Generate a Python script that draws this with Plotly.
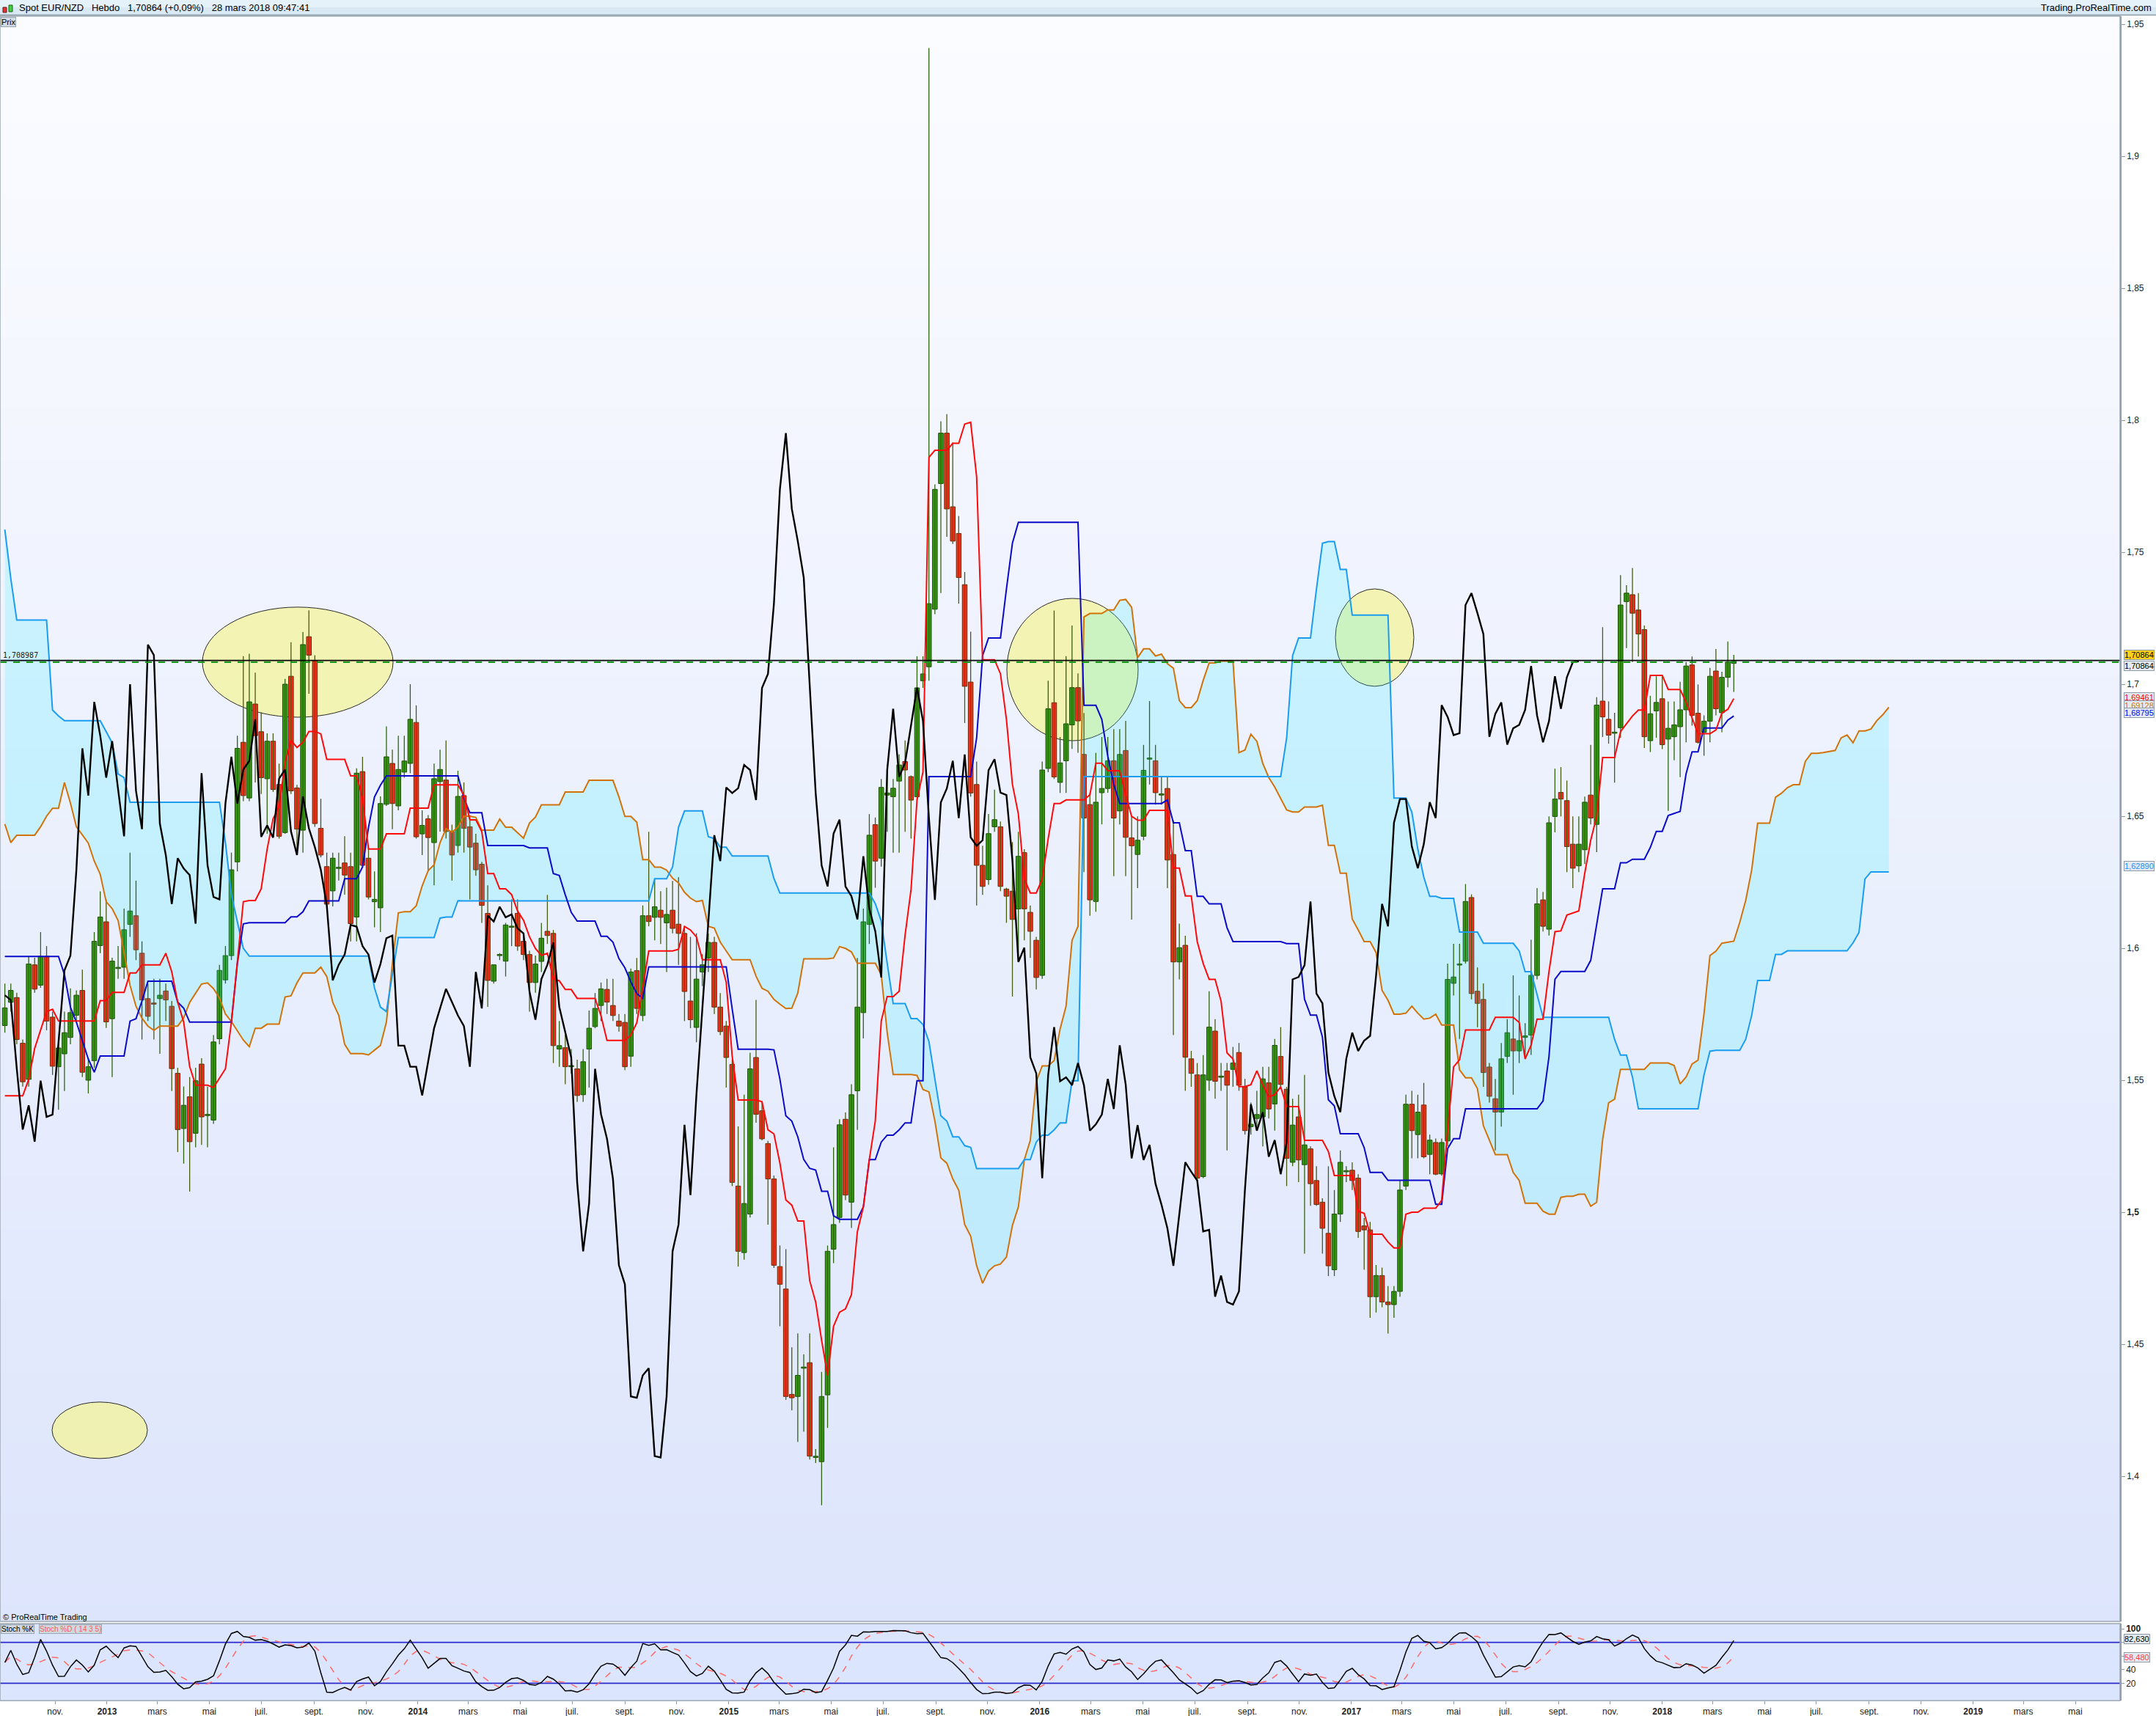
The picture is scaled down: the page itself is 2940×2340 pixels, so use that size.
import numpy as np
import pandas as pd
import plotly.graph_objects as go

# ---------------- data ----------------
FIRST_WEEK = "2012-09-03"

OPEN = [1.5707, 1.5795, 1.5813, 1.5640, 1.5503, 1.5937, 1.5860, 1.5969, 1.5739, 1.5551,
        1.5600, 1.5662, 1.5746, 1.5840, 1.5500, 1.5574, 1.6010, 1.6100, 1.5733, 1.5923,
        1.5928, 1.6090, 1.6123, 1.5981, 1.5809, 1.5790, 1.5809, 1.5838, 1.5780, 1.5526,
        1.5317, 1.5437, 1.5299, 1.5561, 1.5366, 1.5349, 1.5657, 1.5880, 1.5972, 1.6327,
        1.6780, 1.6569, 1.6925, 1.6820, 1.6642, 1.6784, 1.6620, 1.6438, 1.7030, 1.6607,
        1.6447, 1.7180, 1.7090, 1.6454, 1.6309, 1.6217, 1.6302, 1.6323, 1.6309, 1.6118,
        1.6669, 1.6341, 1.6176, 1.6153, 1.6545, 1.6700, 1.6539, 1.6667, 1.6700, 1.6855,
        1.6433, 1.6490, 1.6400, 1.6631, 1.6637, 1.6442, 1.6389, 1.6578, 1.6460, 1.6398,
        1.6318, 1.6132, 1.5875, 1.5972, 1.5951, 1.6079, 1.6132, 1.6026, 1.5976, 1.5870,
        1.5950, 1.6064, 1.6056, 1.5618, 1.5623, 1.5551, 1.5543, 1.5445, 1.5618, 1.5703,
        1.5783, 1.5844, 1.5783, 1.5724, 1.5719, 1.5591, 1.5915, 1.5745, 1.6123, 1.6117,
        1.6144, 1.6096, 1.6144, 1.6091, 1.6056, 1.5800, 1.5700, 1.5910, 1.5963, 1.6022,
        1.5777, 1.5705, 1.5560, 1.5099, 1.4847, 1.4993, 1.5586, 1.5384, 1.5260, 1.5126,
        1.4794, 1.4709, 1.4310, 1.4302, 1.4409, 1.4430, 1.4071, 1.4055, 1.4308, 1.4860,
        1.4980, 1.5352, 1.5038, 1.5460, 1.5756, 1.6090, 1.6468, 1.6341, 1.6580, 1.6574,
        1.6633, 1.6707, 1.6650, 1.6574, 1.7013, 1.7066, 1.7284, 1.7760, 1.7951, 1.7672,
        1.7571, 1.7377, 1.7008, 1.6620, 1.6314, 1.6260, 1.6460, 1.6460, 1.6224, 1.6216,
        1.6149, 1.6362, 1.6136, 1.6030, 1.5897, 1.6681, 1.6930, 1.6628, 1.6710, 1.6846,
        1.6987, 1.6734, 1.6544, 1.6177, 1.6589, 1.6605, 1.6710, 1.6520, 1.6749, 1.6418,
        1.6355, 1.6424, 1.6716, 1.6710, 1.6580, 1.6605, 1.6355, 1.5948, 1.6011, 1.5581,
        1.5520, 1.5135, 1.5500, 1.5686, 1.5511, 1.5535, 1.5541, 1.5605, 1.5475, 1.5324,
        1.5355, 1.5361, 1.5490, 1.5410, 1.5590, 1.5466, 1.5189, 1.5361, 1.5180, 1.5240,
        1.5120, 1.5038, 1.4920, 1.4782, 1.4993, 1.5153, 1.5159, 1.5129, 1.4948, 1.4933,
        1.4680, 1.4760, 1.4660, 1.4650, 1.4700, 1.5099, 1.5409, 1.5294, 1.5406, 1.5219,
        1.5264, 1.5145, 1.5270, 1.5867, 1.5936, 1.5951, 1.6192, 1.5837, 1.5806, 1.5550,
        1.5430, 1.5379, 1.5590, 1.5656, 1.5611, 1.5662, 1.5671, 1.5897, 1.6183, 1.6072,
        1.6499, 1.6590, 1.6559, 1.6394, 1.6312, 1.6373, 1.6580, 1.6469, 1.6936, 1.6867,
        1.6814, 1.6835, 1.7313, 1.7339, 1.7281, 1.7207, 1.6786, 1.6899, 1.6945, 1.6792,
        1.6801, 1.6839, 1.6903, 1.7073, 1.6890, 1.6818, 1.6860, 1.7050, 1.6892, 1.7026,
        1.7079]

HIGH = [1.5866, 1.5866, 1.5831, 1.5654, 1.5969, 1.5964, 1.6061, 1.6008, 1.5760, 1.5654,
        1.5760, 1.5848, 1.5840, 1.5919, 1.5583, 1.6061, 1.6215, 1.6185, 1.5964, 1.6008,
        1.6150, 1.6362, 1.6256, 1.6026, 1.5866, 1.5884, 1.5884, 1.5866, 1.5800, 1.5547,
        1.5476, 1.5512, 1.5547, 1.5583, 1.5476, 1.5671, 1.5937, 1.6008, 1.6362, 1.6805,
        1.7106, 1.7115, 1.7044, 1.6894, 1.6814, 1.6814, 1.6699, 1.7020, 1.7159, 1.6619,
        1.7198, 1.7280, 1.7110, 1.6566, 1.6362, 1.6362, 1.6362, 1.6424, 1.6362, 1.6681,
        1.6725, 1.6380, 1.6291, 1.6575, 1.6840, 1.6752, 1.6805, 1.6805, 1.7000, 1.6920,
        1.6522, 1.6504, 1.6699, 1.6752, 1.6787, 1.6468, 1.6672, 1.6628, 1.6504, 1.6433,
        1.6327, 1.6238, 1.5937, 1.5981, 1.6096, 1.6185, 1.6185, 1.6052, 1.5990, 1.5972,
        1.6096, 1.6202, 1.6069, 1.5724, 1.5671, 1.5618, 1.5578, 1.5618, 1.5764, 1.5830,
        1.5870, 1.5884, 1.5884, 1.5751, 1.5751, 1.5923, 1.5963, 1.6162, 1.6441, 1.6261,
        1.6216, 1.6229, 1.6255, 1.6269, 1.6083, 1.6043, 1.6056, 1.5977, 1.6056, 1.6043,
        1.5830, 1.5724, 1.5580, 1.5325, 1.5445, 1.5604, 1.5804, 1.5418, 1.5270, 1.5139,
        1.4874, 1.4860, 1.4488, 1.4541, 1.4462, 1.4541, 1.4103, 1.4395, 1.4874, 1.5246,
        1.5352, 1.5378, 1.5485, 1.5963, 1.6150, 1.6508, 1.6495, 1.6641, 1.6694, 1.6641,
        1.6734, 1.6787, 1.6654, 1.7106, 1.7106, 1.9410, 1.7757, 1.7996, 1.8023, 1.7916,
        1.7637, 1.7425, 1.7199, 1.6707, 1.6388, 1.6508, 1.6601, 1.6480, 1.6229, 1.6402,
        1.6441, 1.6375, 1.6162, 1.6043, 1.6707, 1.7013, 1.7279, 1.6800, 1.7106, 1.7222,
        1.7041, 1.6891, 1.6589, 1.6740, 1.6800, 1.6800, 1.6830, 1.6830, 1.6861, 1.6499,
        1.6499, 1.6770, 1.6936, 1.6770, 1.6650, 1.6650, 1.6484, 1.6093, 1.6047, 1.5611,
        1.5565, 1.5595, 1.5837, 1.5731, 1.5565, 1.5565, 1.5626, 1.5641, 1.5505, 1.5415,
        1.5460, 1.5551, 1.5551, 1.5656, 1.5701, 1.5475, 1.5430, 1.5445, 1.5520, 1.5249,
        1.5174, 1.5053, 1.5174, 1.5084, 1.5234, 1.5174, 1.5189, 1.5144, 1.4978, 1.4963,
        1.4800, 1.4790, 1.4720, 1.4720, 1.5120, 1.5445, 1.5460, 1.5445, 1.5490, 1.5294,
        1.5279, 1.5279, 1.5942, 1.6017, 1.6017, 1.6243, 1.6204, 1.5927, 1.5867, 1.5565,
        1.5505, 1.5641, 1.5731, 1.5897, 1.5821, 1.5716, 1.6032, 1.6228, 1.6213, 1.6499,
        1.6680, 1.6686, 1.6635, 1.6499, 1.6499, 1.6574, 1.6770, 1.6951, 1.7216, 1.6935,
        1.6892, 1.7413, 1.7375, 1.7440, 1.7345, 1.7222, 1.6956, 1.7030, 1.7030, 1.6935,
        1.6935, 1.7009, 1.7084, 1.7105, 1.6999, 1.6882, 1.7062, 1.7133, 1.7047, 1.7162,
        1.7111]

LOW = [1.5680, 1.5760, 1.5636, 1.5476, 1.5476, 1.5831, 1.5850, 1.5689, 1.5520, 1.5388,
       1.5459, 1.5636, 1.5724, 1.5512, 1.5450, 1.5547, 1.5981, 1.5698, 1.5512, 1.5884,
       1.5884, 1.6043, 1.5955, 1.5654, 1.5724, 1.5654, 1.5600, 1.5724, 1.5459, 1.5228,
       1.5184, 1.5078, 1.5246, 1.5255, 1.5246, 1.5335, 1.5636, 1.5866, 1.5955, 1.6291,
       1.6557, 1.6557, 1.6628, 1.6584, 1.6433, 1.6592, 1.6415, 1.6433, 1.6584, 1.6362,
       1.6362, 1.6964, 1.6460, 1.6344, 1.6150, 1.6158, 1.6256, 1.6203, 1.6026, 1.6026,
       1.6309, 1.6185, 1.6079, 1.6061, 1.6539, 1.6451, 1.6522, 1.6646, 1.6663, 1.6415,
       1.6353, 1.6291, 1.6238, 1.6442, 1.6415, 1.6256, 1.6362, 1.6362, 1.6185, 1.6274,
       1.6096, 1.5778, 1.5866, 1.5955, 1.5893, 1.6008, 1.5990, 1.5955, 1.5760, 1.5831,
       1.5910, 1.6016, 1.5565, 1.5551, 1.5485, 1.5525, 1.5418, 1.5418, 1.5472, 1.5697,
       1.5724, 1.5751, 1.5724, 1.5684, 1.5538, 1.5551, 1.5751, 1.5724, 1.6083, 1.6030,
       1.6016, 1.5910, 1.6056, 1.5937, 1.5724, 1.5697, 1.5644, 1.5857, 1.5910, 1.5751,
       1.5671, 1.5472, 1.5099, 1.4794, 1.4820, 1.4980, 1.5339, 1.5272, 1.4953, 1.4789,
       1.4568, 1.4289, 1.4249, 1.4130, 1.4169, 1.4063, 1.4050, 1.3890, 1.4183, 1.4807,
       1.4960, 1.5046, 1.4940, 1.5312, 1.5658, 1.6016, 1.6229, 1.6309, 1.6441, 1.6362,
       1.6362, 1.6441, 1.6415, 1.6561, 1.6986, 1.7013, 1.7265, 1.7345, 1.7558, 1.7531,
       1.7305, 1.6853, 1.6574, 1.6162, 1.6202, 1.6240, 1.6441, 1.6216, 1.6096, 1.5817,
       1.5963, 1.6030, 1.5963, 1.5844, 1.5884, 1.6667, 1.6641, 1.6588, 1.6588, 1.6755,
       1.6740, 1.6288, 1.6123, 1.6138, 1.6469, 1.6589, 1.6273, 1.6469, 1.6273, 1.6108,
       1.6228, 1.6409, 1.6620, 1.6544, 1.6544, 1.6228, 1.5671, 1.5882, 1.5460, 1.5475,
       1.5114, 1.5129, 1.5460, 1.5430, 1.5460, 1.5234, 1.5475, 1.5460, 1.5294, 1.5294,
       1.5324, 1.5249, 1.5355, 1.5309, 1.5475, 1.5099, 1.5174, 1.5114, 1.4843, 1.5024,
       1.5024, 1.4843, 1.4758, 1.4758, 1.4963, 1.5114, 1.5084, 1.4903, 1.4782, 1.4600,
       1.4620, 1.4640, 1.4540, 1.4600, 1.4680, 1.5084, 1.5204, 1.5204, 1.5204, 1.5144,
       1.5140, 1.5138, 1.5250, 1.5821, 1.5656, 1.5942, 1.5806, 1.5701, 1.5475, 1.5415,
       1.5234, 1.5324, 1.5565, 1.5445, 1.5565, 1.5581, 1.5596, 1.5882, 1.6063, 1.6048,
       1.6439, 1.6499, 1.6288, 1.6228, 1.6288, 1.6319, 1.6469, 1.6364, 1.6800, 1.6775,
       1.6627, 1.6797, 1.7137, 1.7084, 1.7105, 1.6758, 1.6743, 1.6797, 1.6754, 1.6520,
       1.6712, 1.6648, 1.6780, 1.6843, 1.6775, 1.6729, 1.6780, 1.6882, 1.6818, 1.6988,
       1.6971]

CLOSE = [1.5774, 1.5840, 1.5654, 1.5494, 1.5940, 1.5845, 1.5969, 1.5724, 1.5553, 1.5622,
         1.5680, 1.5756, 1.5822, 1.5530, 1.5551, 1.6026, 1.6118, 1.5721, 1.5951, 1.5926,
         1.6070, 1.6141, 1.5994, 1.5804, 1.5742, 1.5788, 1.5822, 1.5804, 1.5544, 1.5313,
         1.5405, 1.5267, 1.5498, 1.5361, 1.5370, 1.5645, 1.5916, 1.5972, 1.6297, 1.6757,
         1.6578, 1.6933, 1.6805, 1.6646, 1.6784, 1.6601, 1.6424, 1.7000, 1.6596, 1.6451,
         1.7150, 1.7110, 1.6472, 1.6353, 1.6167, 1.6341, 1.6302, 1.6277, 1.6093, 1.6663,
         1.6314, 1.6194, 1.6185, 1.6548, 1.6725, 1.6548, 1.6677, 1.6709, 1.6867, 1.6422,
         1.6465, 1.6419, 1.6642, 1.6677, 1.6442, 1.6353, 1.6575, 1.6454, 1.6383, 1.6297,
         1.6162, 1.5878, 1.5937, 1.5976, 1.6088, 1.6082, 1.6008, 1.5976, 1.5870, 1.5940,
         1.6038, 1.6048, 1.5631, 1.5631, 1.5551, 1.5551, 1.5442, 1.5570, 1.5697, 1.5772,
         1.5846, 1.5796, 1.5745, 1.5705, 1.5551, 1.5910, 1.5772, 1.6123, 1.6101, 1.6157,
         1.6117, 1.6128, 1.6075, 1.6056, 1.5836, 1.5729, 1.5883, 1.5937, 1.6022, 1.5777,
         1.5684, 1.5586, 1.5113, 1.4852, 1.5033, 1.5543, 1.5371, 1.5278, 1.5126, 1.4799,
         1.4727, 1.4302, 1.4297, 1.4382, 1.4409, 1.4076, 1.4071, 1.4302, 1.4852, 1.4953,
         1.5331, 1.5065, 1.5445, 1.5777, 1.6100, 1.6428, 1.6330, 1.6609, 1.6588, 1.6606,
         1.6694, 1.6675, 1.6561, 1.6986, 1.7039, 1.7305, 1.7738, 1.7951, 1.7664, 1.7542,
         1.7404, 1.6992, 1.6588, 1.6314, 1.6234, 1.6434, 1.6487, 1.6234, 1.6197, 1.6109,
         1.6348, 1.6149, 1.6064, 1.5889, 1.6675, 1.6907, 1.6649, 1.6702, 1.6850, 1.6987,
         1.6861, 1.6493, 1.6183, 1.6553, 1.6605, 1.6710, 1.6493, 1.6734, 1.6420, 1.6388,
         1.6409, 1.6674, 1.6716, 1.6589, 1.6580, 1.6334, 1.5948, 1.6002, 1.5587, 1.5526,
         1.5129, 1.5520, 1.5701, 1.5496, 1.5511, 1.5481, 1.5565, 1.5481, 1.5309, 1.5333,
         1.5370, 1.5505, 1.5391, 1.5632, 1.5484, 1.5204, 1.5330, 1.5198, 1.5255, 1.5108,
         1.5029, 1.4939, 1.4797, 1.4993, 1.5189, 1.5153, 1.5120, 1.4927, 1.4933, 1.4680,
         1.4760, 1.4660, 1.4650, 1.4700, 1.5084, 1.5409, 1.5309, 1.5379, 1.5210, 1.5273,
         1.5144, 1.5264, 1.5882, 1.5891, 1.5936, 1.6177, 1.5828, 1.5791, 1.5529, 1.5439,
         1.5379, 1.5581, 1.5680, 1.5611, 1.5650, 1.5668, 1.5897, 1.6168, 1.6083, 1.6475,
         1.6565, 1.6565, 1.6385, 1.6303, 1.6394, 1.6553, 1.6493, 1.6921, 1.6876, 1.6807,
         1.6814, 1.7300, 1.7345, 1.7269, 1.7190, 1.6801, 1.6888, 1.6931, 1.6771, 1.6833,
         1.6846, 1.6903, 1.7069, 1.6882, 1.6780, 1.6860, 1.7030, 1.6907, 1.7026, 1.7084,
         1.70864]

# Ichimoku values visible at the left edge, before enough history exists
TENKAN_HEAD = [1.5441, 1.5441, 1.5441, 1.5441, 1.5503, 1.5620, 1.5690, 1.5760]
KIJUN_HEAD = [1.5969, 1.5969, 1.5969, 1.5969, 1.5969, 1.5969, 1.5969, 1.5969, 1.5969, 1.5969,
              1.5900, 1.5777, 1.5720, 1.5650, 1.5580, 1.5530, 1.5592, 1.5592, 1.5592, 1.5592,
              1.5592, 1.5724, 1.5733, 1.5800, 1.5875]
SSA_HEAD = [1.6470, 1.6400, 1.6428, 1.6428, 1.6428, 1.6428, 1.6460, 1.6500, 1.6530, 1.6530,
            1.6628, 1.6550, 1.6460, 1.6430, 1.6398, 1.6330, 1.6280, 1.6176, 1.6150, 1.6105,
            1.5980, 1.5860, 1.5780, 1.5735, 1.5705, 1.5689]
SSB_HEAD = [1.7586, 1.7400, 1.7243, 1.7243, 1.7243, 1.7243, 1.7243, 1.7243, 1.6902, 1.6880,
            1.6862, 1.6862, 1.6862, 1.6862, 1.6862, 1.6862, 1.6862, 1.6820, 1.6778, 1.6660,
            1.6646, 1.6553, 1.6553, 1.6553, 1.6553, 1.6553, 1.6553, 1.6553, 1.6553, 1.6553,
            1.6553, 1.6553, 1.6553, 1.6553, 1.6553, 1.6553, 1.6553, 1.6400, 1.6203, 1.6100,
            1.6000, 1.5970, 1.5970, 1.5970, 1.5970, 1.5970, 1.5970, 1.5970, 1.5970, 1.5970,
            1.5970, 1.5970, 1.5970, 1.5970, 1.5970, 1.5970, 1.5970, 1.5970, 1.5970, 1.5970,
            1.5970, 1.5970, 1.5850, 1.5777, 1.5760, 1.5900, 1.6040, 1.6040, 1.6040, 1.6040,
            1.6040, 1.6040, 1.6040, 1.6114, 1.6118, 1.6118, 1.6180]

LEVEL_LINE = 1.708987
LAST_PRICE = 1.70864

PRICE_TICKS = [1.4, 1.45, 1.5, 1.55, 1.6, 1.65, 1.7, 1.75, 1.8, 1.85, 1.9, 1.95]
PRICE_TICK_TEXT = ["1,4", "1,45", "<b>1,5</b>", "1,55", "1,6", "1,65", "1,7", "1,75",
                   "1,8", "1,85", "1,9", "1,95"]

MONTH_TICKS = ["2012-11-01", "2013-01-01", "2013-03-01", "2013-05-01", "2013-07-01", "2013-09-01",
               "2013-11-01", "2014-01-01", "2014-03-01", "2014-05-01", "2014-07-01", "2014-09-01",
               "2014-11-01", "2015-01-01", "2015-03-01", "2015-05-01", "2015-07-01", "2015-09-01",
               "2015-11-01", "2016-01-01", "2016-03-01", "2016-05-01", "2016-07-01", "2016-09-01",
               "2016-11-01", "2017-01-01", "2017-03-01", "2017-05-01", "2017-07-01", "2017-09-01",
               "2017-11-01", "2018-01-01", "2018-03-01", "2018-05-01", "2018-07-01", "2018-09-01",
               "2018-11-01", "2019-01-01", "2019-03-01", "2019-05-01"]
MONTH_TEXT = ["nov.", "<b>2013</b>", "mars", "mai", "juil.", "sept.",
              "nov.", "<b>2014</b>", "mars", "mai", "juil.", "sept.",
              "nov.", "<b>2015</b>", "mars", "mai", "juil.", "sept.",
              "nov.", "<b>2016</b>", "mars", "mai", "juil.", "sept.",
              "nov.", "<b>2017</b>", "mars", "mai", "juil.", "sept.",
              "nov.", "<b>2018</b>", "mars", "mai", "juil.", "sept.",
              "nov.", "<b>2019</b>", "mars", "mai"]

# right-hand value tags: value, text, text colour, background, vertical nudge (px)
AXIS_TAGS = [
    (1.70864, "1,70864", "#000000", "#ffd21a", 9),
    (1.70864, "1,70864", "#000000", "#e4eaf2", -6),
    (1.69461, "1,69461", "#ff0000", "#e4eaf2", 1),
    (1.69128, "1,69128", "#d2730a", "#e4eaf2", 2),
    (1.68795, "1,68795", "#0000ff", "#e4eaf2", 4),
    (1.62890, "1,62890", "#1e90ff", "#e4eaf2", 8),
]
STOCH_TAGS = [(82.63, "82,630", "#000000", 2), (58.48, "58,480", "#ff4040", 0)]

# ---------------- geometry of the page ----------------
W, H_PX = 2940, 2340
ML, MR, MT, MB = 0, 49, 22, 21
PLOT_H = H_PX - MT - MB
PRICE_BOTTOM_PX = 2211
STOCH_TOP_PX = 2214


def py(ypx):
    return (H_PX - MB - ypx) / PLOT_H


PRICE_DOMAIN = [py(PRICE_BOTTOM_PX), 1.0]
STOCH_DOMAIN = [0.0, py(STOCH_TOP_PX)]
PRICE_RANGE = [1.7 - (PRICE_BOTTOM_PX - 933) / 3600.0, 1.7 + (933 - MT) / 3600.0]
X_RANGE = ["2012-08-28 07:40", "2019-06-22 12:30"]

# ---------------- derived series ----------------
n = len(CLOSE)
dates = pd.date_range(FIRST_WEEK, periods=n + 26, freq="7D")
wk = dates[:n]
Hs, Ls, Cs, Os = (pd.Series(v, dtype=float) for v in (HIGH, LOW, CLOSE, OPEN))


def midpoint(win):
    return ((Hs.rolling(win).max() + Ls.rolling(win).min()) / 2).to_numpy()


tenkan = midpoint(9)
tenkan[:len(TENKAN_HEAD)] = TENKAN_HEAD
kijun = midpoint(26)
kijun[:len(KIJUN_HEAD)] = KIJUN_HEAD
ssa = np.concatenate([SSA_HEAD, (tenkan + kijun) / 2])
ssb = np.concatenate([SSB_HEAD, midpoint(52)[51:]])

ll = Ls.rolling(14, min_periods=1).min()
hh = Hs.rolling(14, min_periods=1).max()
raw = (Cs - ll) / (hh - ll) * 100
stoch_k = raw.rolling(3, min_periods=1).mean()
stoch_d = stoch_k.rolling(5, min_periods=1).mean()

O = np.array(OPEN)
C = np.array(CLOSE)
Hh = np.array(HIGH)
Ll = np.array(LOW)
up = C >= O
base = np.minimum(O, C)
height = np.maximum(np.abs(C - O), 0.00045)

FONT = "Liberation Sans, Arial, sans-serif"
fig = go.Figure()

# cloud
fig.add_trace(go.Scatter(x=dates, y=ssb, mode="lines", line=dict(width=0, color="rgba(0,0,0,0)"),
                         hoverinfo="skip"))
fig.add_trace(go.Scatter(x=dates, y=ssa, mode="lines", line=dict(width=0, color="rgba(0,0,0,0)"),
                         fill="tonexty", fillcolor="rgba(30,238,255,0.19)", hoverinfo="skip"))


def wick_xy(mask):
    xs, ys = [], []
    for d, lo, hi in zip(wk[mask], Ll[mask], Hh[mask]):
        xs += [d, d, None]
        ys += [lo, hi, None]
    return xs, ys


for mask, wcol in ((up, "#2f6410"), (~up, "#4a5a10")):
    xs, ys = wick_xy(mask)
    fig.add_trace(go.Scatter(x=xs, y=ys, mode="lines", line=dict(color=wcol, width=1.3),
                             hoverinfo="skip"))

BODY_W = 5.6 * 86400000
fig.add_trace(go.Bar(x=wk[up], y=height[up], base=base[up], width=BODY_W,
                     marker=dict(color="#339a12", line=dict(color="#1d4d05", width=1))))
fig.add_trace(go.Bar(x=wk[~up], y=height[~up], base=base[~up], width=BODY_W,
                     marker=dict(color="#ff2a1a", line=dict(color="#6a2a08", width=1))))

# ichimoku lines
fig.add_trace(go.Scatter(x=dates, y=ssa, mode="lines", line=dict(color="#d2730a", width=2)))
fig.add_trace(go.Scatter(x=dates, y=ssb, mode="lines", line=dict(color="#1a9cf0", width=2)))
fig.add_trace(go.Scatter(x=wk, y=kijun, mode="lines", line=dict(color="#0a0ac8", width=2)))
fig.add_trace(go.Scatter(x=wk, y=tenkan, mode="lines", line=dict(color="#ff0a0a", width=2)))
fig.add_trace(go.Scatter(x=wk[:n - 26], y=C[26:], mode="lines", line=dict(color="#000000", width=2.4)))

# stochastic
for lvl in (80, 20):
    fig.add_trace(go.Scatter(x=[X_RANGE[0], X_RANGE[1]], y=[lvl, lvl], mode="lines",
                             line=dict(color="#2a2ad0", width=1.6), xaxis="x", yaxis="y2"))
fig.add_trace(go.Scatter(x=wk, y=stoch_d, mode="lines", line=dict(color="#ff6a6a", width=1.5, dash="dash"),
                         xaxis="x", yaxis="y2"))
fig.add_trace(go.Scatter(x=wk, y=stoch_k, mode="lines", line=dict(color="#000000", width=1.5),
                         xaxis="x", yaxis="y2"))

# ---------------- shapes ----------------
shapes = []
NB = 90
top_c = np.array([251, 252, 255])
bot_c = np.array([221, 229, 252])
for k in range(NB):
    t = (k + 0.5) / NB
    col = bot_c + (top_c - bot_c) * t
    shapes.append(dict(type="rect", xref="paper", yref="y domain", x0=0, x1=1,
                       y0=k / NB, y1=(k + 1) / NB + 0.001, line=dict(width=0),
                       fillcolor="rgb(%d,%d,%d)" % tuple(col.round()), layer="below"))
shapes.append(dict(type="rect", xref="paper", yref="y2 domain", x0=0, x1=1, y0=0, y1=1,
                   line=dict(width=0), fillcolor="#dbe5fd", layer="below"))

# highlight ellipses (annotations on the chart)
ELLIPSES = [  # x0, x1 as fractions of width, y0, y1 in price
    (276 / 2891, 536 / 2891, 1.6875, 1.7292),
    (1373 / 2891, 1552 / 2891, 1.6786, 1.7325),
    (1821 / 2891, 1928 / 2891, 1.6992, 1.7361),
    (71 / 2891, 201 / 2891, 1.4067, 1.4281),
]
for x0, x1, y0, y1 in ELLIPSES:
    shapes.append(dict(type="circle", xref="paper", yref="y", x0=x0, x1=x1, y0=y0, y1=y1,
                       fillcolor="rgba(244,244,150,0.72)", line=dict(color="#2a2a2a", width=1),
                       layer="below"))

# horizontal level lines
shapes.append(dict(type="line", xref="paper", yref="y", x0=0, x1=1, y0=LEVEL_LINE, y1=LEVEL_LINE,
                   line=dict(color="#000000", width=1.6), layer="above"))
shapes.append(dict(type="line", xref="paper", yref="y", x0=0, x1=1, y0=LAST_PRICE - 0.0003,
                   y1=LAST_PRICE - 0.0003, line=dict(color="#1a9a1a", width=2, dash="dash"), layer="above"))

# panel borders
shapes.append(dict(type="rect", xref="paper", yref="paper", x0=0, x1=1, y0=PRICE_DOMAIN[0], y1=1,
                   line=dict(color="#9aa6b2", width=1.5), layer="above"))
shapes.append(dict(type="rect", xref="paper", yref="paper", x0=0, x1=1, y0=0, y1=STOCH_DOMAIN[1],
                   line=dict(color="#9aa6b2", width=1.5), layer="above"))

# header band
XR = W / (W - MR)
shapes.append(dict(type="rect", xref="paper", yref="paper", x0=0, x1=XR, y0=py(20), y1=py(0),
                   line=dict(width=0), fillcolor="#d8e9f3", layer="above"))
shapes.append(dict(type="rect", xref="paper", yref="paper", x0=0, x1=XR, y0=py(10), y1=py(0),
                   line=dict(width=0), fillcolor="#e6f2f9", layer="above"))
shapes.append(dict(type="line", xref="paper", yref="paper", x0=0, x1=XR, y0=py(20.5), y1=py(20.5),
                   line=dict(color="#8d9ba8", width=1.5), layer="above"))
# small candle icon in the header
shapes.append(dict(type="rect", xref="paper", yref="paper", x0=4 / 2891, x1=9 / 2891, y0=py(17), y1=py(10),
                   fillcolor="#e83030", line=dict(color="#602020", width=1), layer="above"))
shapes.append(dict(type="rect", xref="paper", yref="paper", x0=12 / 2891, x1=17 / 2891, y0=py(16), y1=py(7),
                   fillcolor="#40d040", line=dict(color="#206020", width=1), layer="above"))

# ---------------- annotations ----------------
ann = []
ann.append(dict(xref="paper", yref="paper", x=24 / 2891, y=py(10), xanchor="left", yanchor="middle",
                text="Spot EUR/NZD&nbsp;&nbsp;&nbsp;Hebdo&nbsp;&nbsp;&nbsp;1,70864 (+0,09%)&nbsp;&nbsp;&nbsp;28 mars 2018 09:47:41",
                showarrow=False, font=dict(family=FONT, size=13, color="#000000")))
ann.append(dict(xref="paper", yref="paper", x=2936 / 2891, y=py(10), xanchor="right", yanchor="middle",
                text="Trading.ProRealTime.com", showarrow=False,
                font=dict(family=FONT, size=13, color="#000000")))
ann.append(dict(xref="paper", yref="paper", x=1 / 2891, y=py(23), xanchor="left", yanchor="top",
                text="Prix", showarrow=False, bgcolor="#d3dbe2", bordercolor="#9aa6b2", borderwidth=1,
                borderpad=0, font=dict(family=FONT, size=11, color="#000000")))
ann.append(dict(xref="paper", yref="y", x=2 / 2891, y=LEVEL_LINE, xanchor="left", yanchor="bottom",
                text="1,708987", showarrow=False, yshift=0,
                font=dict(family="DejaVu Sans Mono, monospace", size=10, color="#202020")))
ann.append(dict(xref="paper", yref="paper", x=2 / 2891, y=py(2205), xanchor="left", yanchor="middle",
                text="© ProRealTime Trading", showarrow=False,
                font=dict(family=FONT, size=11, color="#000000")))
ann.append(dict(xref="paper", yref="paper", x=1 / 2891, y=py(2215), xanchor="left", yanchor="top",
                text="Stoch %K", showarrow=False, bgcolor="#d0d9df", bordercolor="#9aa6b2",
                borderwidth=1, borderpad=0, font=dict(family=FONT, size=10, color="#000000")))
ann.append(dict(xref="paper", yref="paper", x=53 / 2891, y=py(2215), xanchor="left", yanchor="top",
                text="Stoch %D ( 14 3 5)", showarrow=False, bgcolor="#d0d9df", bordercolor="#9aa6b2",
                borderwidth=1, borderpad=0, font=dict(family=FONT, size=10, color="#ff5a5a")))
for val, txt, tcol, bg, shift in AXIS_TAGS:
    ann.append(dict(xref="paper", yref="y", x=2896 / 2891, y=val, xanchor="left", yanchor="middle",
                    yshift=shift, text=txt, showarrow=False, bgcolor=bg, bordercolor="#8e9aa6",
                    borderwidth=1, borderpad=0, font=dict(family=FONT, size=11, color=tcol)))
for val, txt, tcol, shift in STOCH_TAGS:
    ann.append(dict(xref="paper", yref="y2", x=2896 / 2891, y=val, xanchor="left", yanchor="middle",
                    yshift=shift, text=txt, showarrow=False, bgcolor="#e4eaf2", bordercolor="#8e9aa6",
                    borderwidth=1, borderpad=0, font=dict(family=FONT, size=11, color=tcol)))

TICK_FONT = dict(family=FONT, size=12, color="#222222")
fig.update_layout(
    width=W, height=H_PX, margin=dict(l=ML, r=MR, t=MT, b=MB, pad=0),
    paper_bgcolor="#ffffff", plot_bgcolor="rgba(0,0,0,0)",
    showlegend=False, barmode="overlay", hovermode=False,
    font=dict(family=FONT, size=11, color="#222222"),
    shapes=shapes, annotations=ann,
    xaxis=dict(type="date", range=X_RANGE, anchor="y2", tickmode="array", tickvals=MONTH_TICKS,
               ticktext=MONTH_TEXT, ticks="outside", ticklen=4, tickcolor="#8e9aa6",
               showgrid=False, zeroline=False, showline=False, tickfont=TICK_FONT),
    yaxis=dict(domain=PRICE_DOMAIN, range=PRICE_RANGE, side="right", tickmode="array",
               tickvals=PRICE_TICKS, ticktext=PRICE_TICK_TEXT, ticks="outside", ticklen=5,
               tickcolor="#8e9aa6", showgrid=False, zeroline=False, showline=True,
               linecolor="#8e9aa6", linewidth=1.5, tickfont=TICK_FONT),
    yaxis2=dict(domain=STOCH_DOMAIN, range=[-5.4, 107.6], side="right", anchor="x", tickmode="array",
                tickvals=[20, 40, 60, 80, 100], ticktext=["20", "40", "", "", "<b>100</b>"],
                ticks="outside", ticklen=4, tickcolor="#8e9aa6", showgrid=False, zeroline=False,
                showline=True, linecolor="#8e9aa6", linewidth=1.5, tickfont=TICK_FONT),
)

fig.write_html("out.html", config={"displayModeBar": False},
               post_script="document.body.style.margin='0';document.body.style.overflow='hidden';")
